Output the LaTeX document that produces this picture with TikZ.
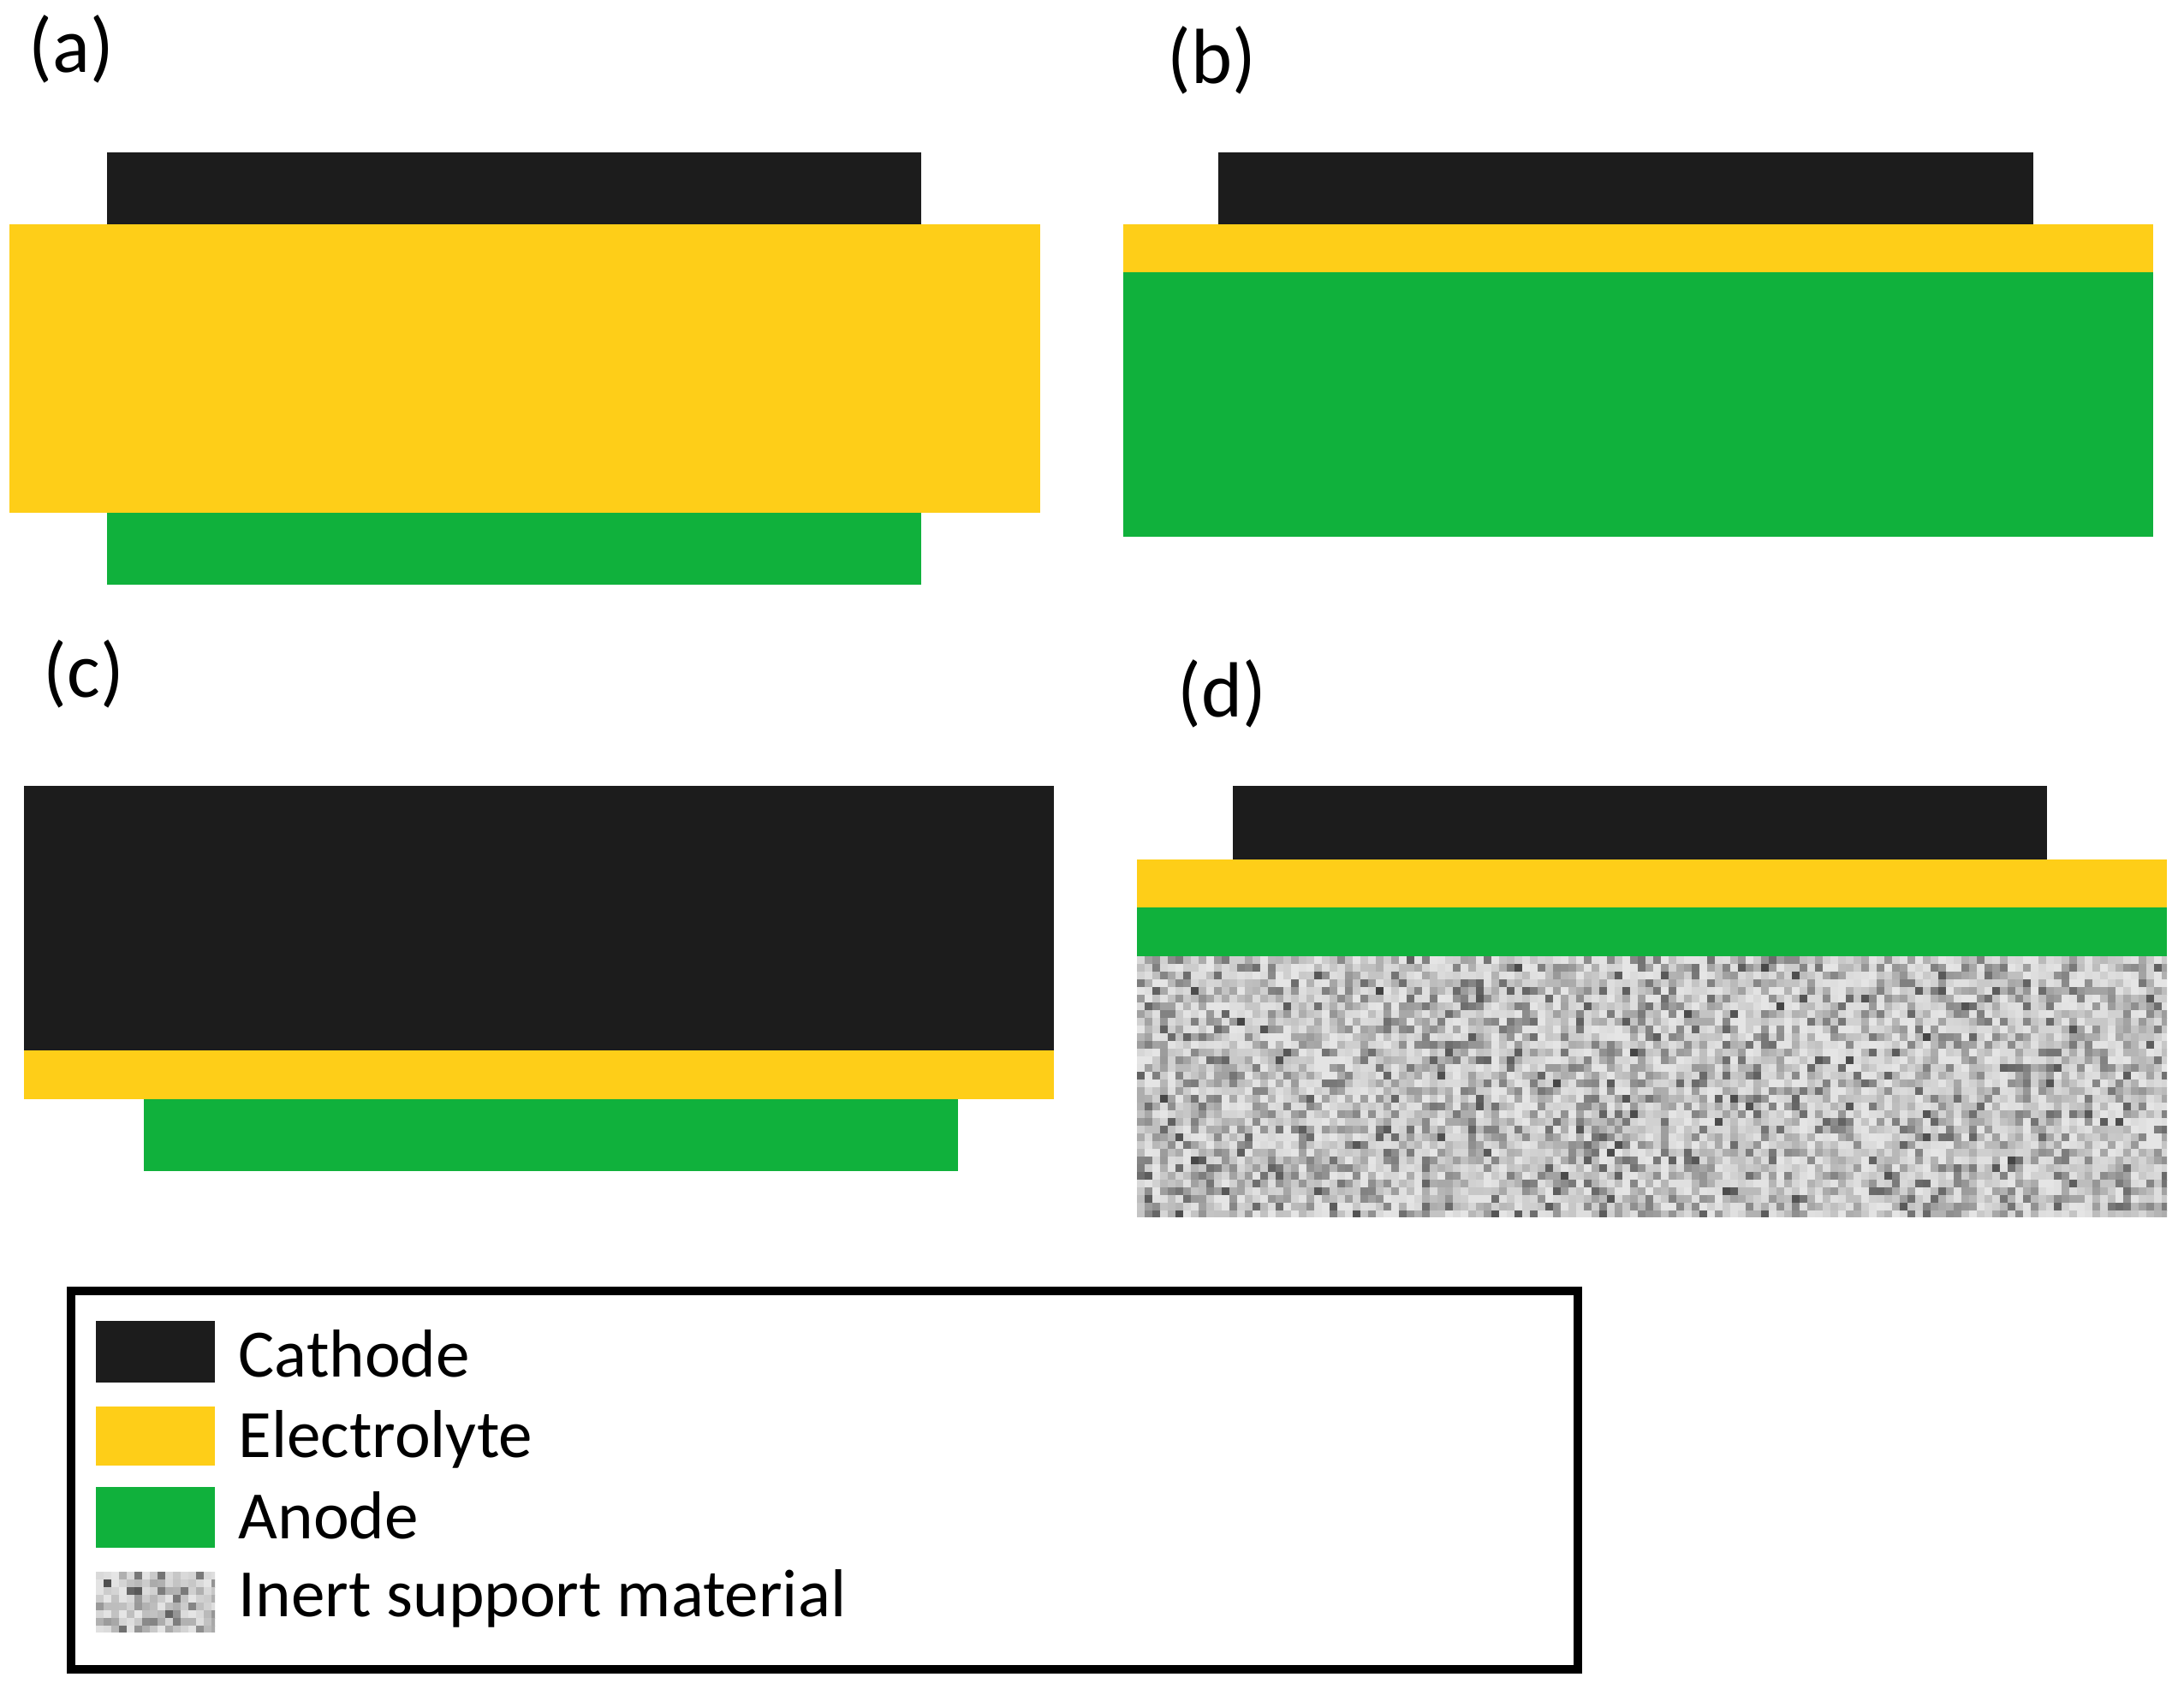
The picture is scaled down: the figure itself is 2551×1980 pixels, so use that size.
\documentclass[tikz,border=0pt]{standalone}
\usepackage{fontspec}
\setmainfont{Carlito}
\definecolor{cath}{RGB}{28,28,28}
\definecolor{elec}{RGB}{254,206,24}
\definecolor{anod}{RGB}{16,177,60}
\newcommand\myNoise[4]{%
  \foreach \i in {1,...,#3}{\foreach \j in {1,...,#4}{%
    \pgfmathsetmacro\g{int(10+66*rnd*rnd)}%
    \fill[black!\g] ({#1+(\i-1)*9},{#2+(\j-1)*9}) rectangle ++(9.6,9.6);
  }}}
\begin{document}
\begin{tikzpicture}[x=0.01cm,y=-0.01cm,
  panel/.style={anchor=base west,font=\fontsize{26}{30}\selectfont,inner sep=0},
  legtext/.style={anchor=base west,font=\fontsize{22.5}{26}\selectfont,inner sep=0},
  cathfill/.style={fill=cath},
  elecfill/.style={fill=elec},
  anodfill/.style={fill=anod}]
\pgfmathsetseed{4711}
\useasboundingbox[fill=white] (0,0) rectangle (2551,1980);

% (a)
\node[panel] (la) at (33,85) {(a)};
\fill[cathfill] (125,178) rectangle (1076,264);
\fill[anodfill] (125,599) rectangle (1076,683);
\fill[elecfill] (11,262) rectangle (1215,599);

% (b)
\node[panel] (lb) at (1363,98) {(b)};
\fill[cathfill] (1423,178) rectangle (2375,264);
\fill[elecfill] (1312,262) rectangle (2515,318);
\fill[anodfill] (1312,318) rectangle (2515,627);

% (c)
\node[panel] (lc) at (50,815) {(c)};
\fill[cathfill] (28,918) rectangle (1231,1228);
\fill[elecfill] (28,1227) rectangle (1231,1284);
\fill[anodfill] (168,1284) rectangle (1119,1368);

% (d)
\node[panel] (ld) at (1375,838) {(d)};
\fill[cathfill] (1440,918) rectangle (2391,1005);
\fill[elecfill] (1328,1004) rectangle (2531,1060);
\fill[anodfill] (1328,1060) rectangle (2531,1117);
\begin{scope}
  \clip (1328,1117) rectangle (2531,1422);
  \fill[black!22] (1328,1117) rectangle (2531,1422);
  \myNoise{1328}{1117}{134}{34}
\end{scope}

% legend
\draw[line width=0.1cm] (83,1508) rectangle (1843,1950);
\fill[cathfill] (112,1543) rectangle (251,1615);
\fill[elecfill] (112,1643) rectangle (251,1712);
\fill[anodfill] (112,1737) rectangle (251,1808);
\begin{scope}
  \clip (112,1836) rectangle (251,1906);
  \fill[black!22] (112,1836) rectangle (251,1906);
  \myNoise{112}{1836}{16}{8}
\end{scope}
\node[legtext] (t1) at (278,1608) {Cathode};
\node[legtext] (t2) at (278,1702) {Electrolyte};
\node[legtext] (t3) at (278,1797) {Anode};
\node[legtext] (t4) at (278,1888) {Inert support material};
\end{tikzpicture}
\end{document}
